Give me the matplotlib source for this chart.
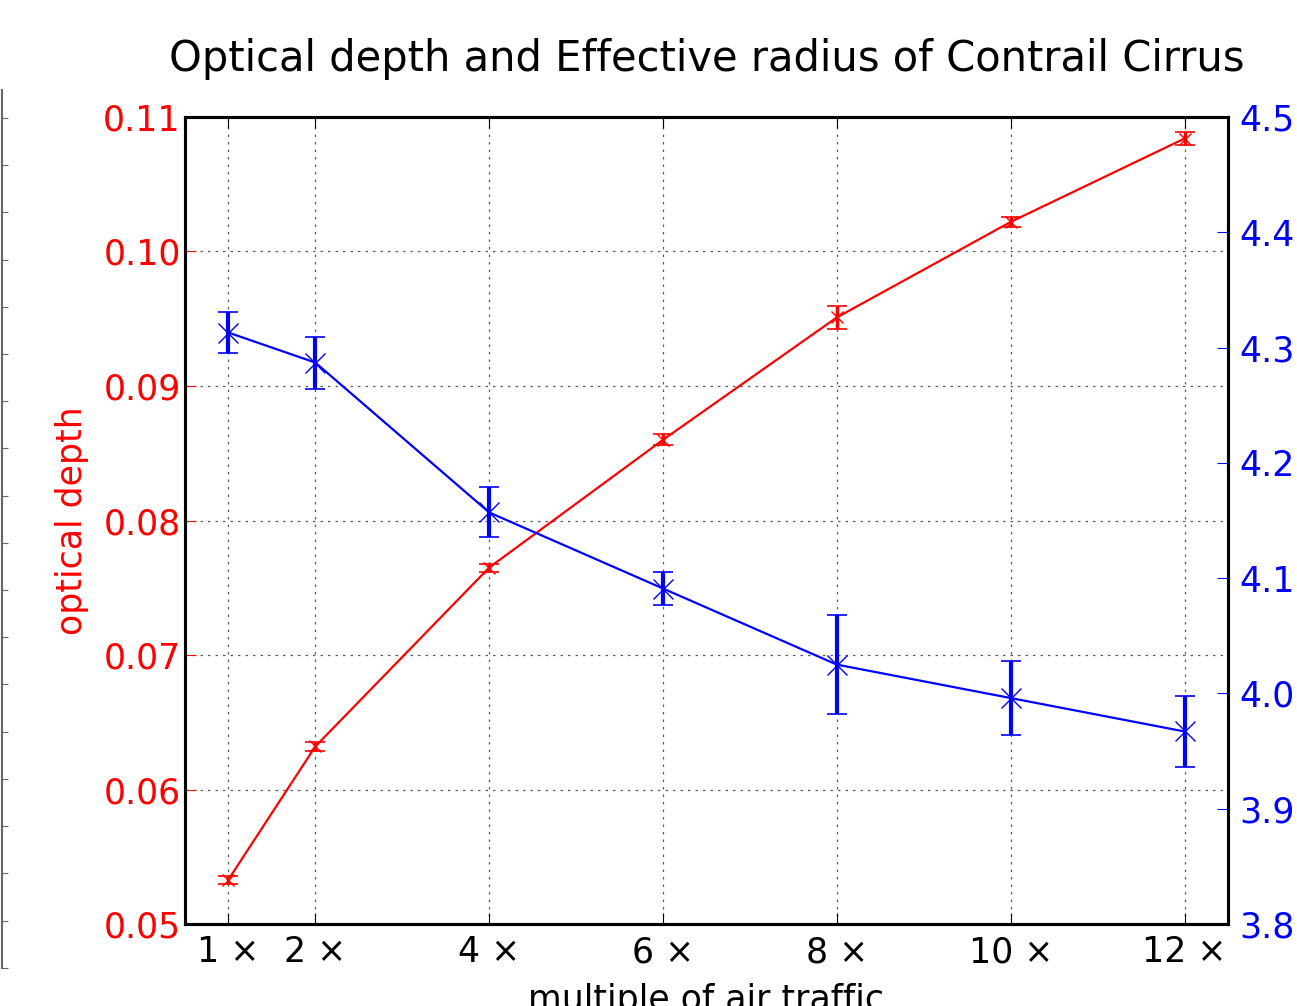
import matplotlib
matplotlib.use("Agg")
import matplotlib.pyplot as plt
import numpy as np

multiples = [1, 2, 4, 6, 8, 10, 12]
tick_labels = ["1 ×", "2 ×", "4 ×", "6 ×", "8 ×", "10 ×", "12 ×"]
optical_depth = [0.0533, 0.0632, 0.0765, 0.0860, 0.0951, 0.1022, 0.1084]
optical_depth_err = [0.0003, 0.0003, 0.0003, 0.0004, 0.00085, 0.0004, 0.0005]
eff_radius = [4.313, 4.287, 4.157, 4.091, 4.025, 3.996, 3.967]
eff_radius_err = [0.018, 0.0225, 0.0217, 0.014, 0.043, 0.032, 0.031]

fs = 25
fig = plt.figure(figsize=(12.97, 10.06), dpi=100)
ax = fig.add_axes([0.1426, 0.0815, 0.8042, 0.8022])

ax.errorbar(multiples, optical_depth, yerr=optical_depth_err, color='red',
            marker='x', markersize=9, lw=1.6, elinewidth=2.5, capsize=7,
            capthick=1.2)
ax.set_xlim(0.5, 12.5)
ax.set_ylim(0.05, 0.11)
ax.set_yticks([0.05, 0.06, 0.07, 0.08, 0.09, 0.10, 0.11])
ax.set_yticklabels(["0.05", "0.06", "0.07", "0.08", "0.09", "0.10", "0.11"])
ax.set_xticks(multiples)
ax.set_xticklabels(tick_labels)
ax.tick_params(axis='y', colors='red', labelsize=fs, direction='in', length=8, pad=3)
ax.tick_params(axis='x', labelsize=fs, direction='in', length=8, top=True, pad=8)
ax.set_ylabel("optical depth", color='red', fontsize=fs, labelpad=10)
ax.set_xlabel("multiple of air traffic", fontsize=fs, labelpad=10)
ax.grid(True, color='#333333', linestyle=(0, (2, 4)), linewidth=0.9, alpha=0.8)
for s in ax.spines.values():
    s.set_linewidth(2.2)

ax2 = ax.twinx()
ax2.errorbar(multiples, eff_radius, yerr=eff_radius_err, color='blue',
             marker='x', markersize=14, lw=1.6, elinewidth=3, capsize=7,
             capthick=1.2)
ax2.set_ylim(3.8, 4.5)
ax2.set_yticks([3.8, 3.9, 4.0, 4.1, 4.2, 4.3, 4.4, 4.5])
ax2.set_yticklabels(["3.8", "3.9", "4.0", "4.1", "4.2", "4.3", "4.4", "4.5"])
ax2.tick_params(axis='y', colors='blue', labelsize=fs, direction='in', length=8, pad=8)
for s in ax2.spines.values():
    s.set_linewidth(2.2)

ax.set_title("Optical depth and Effective radius of Contrail Cirrus",
             fontsize=30, pad=33)

# fragment of neighbouring panel at the left edge
axl = fig.add_axes([-0.1, 0.038, 0.1016, 0.873])
axl.set_xticks([])
axl.set_ylim(0, 18.6)
axl.set_yticks(np.arange(0, 19, 1.0))
axl.yaxis.tick_right()
axl.tick_params(axis='y', direction='out', length=4, color='#666666', labelright=False)
for k, s in axl.spines.items():
    s.set_visible(k == 'right')
axl.spines['right'].set_color('#666666')
axl.spines['right'].set_linewidth(1.5)

fig.savefig("out.png", dpi=100)
